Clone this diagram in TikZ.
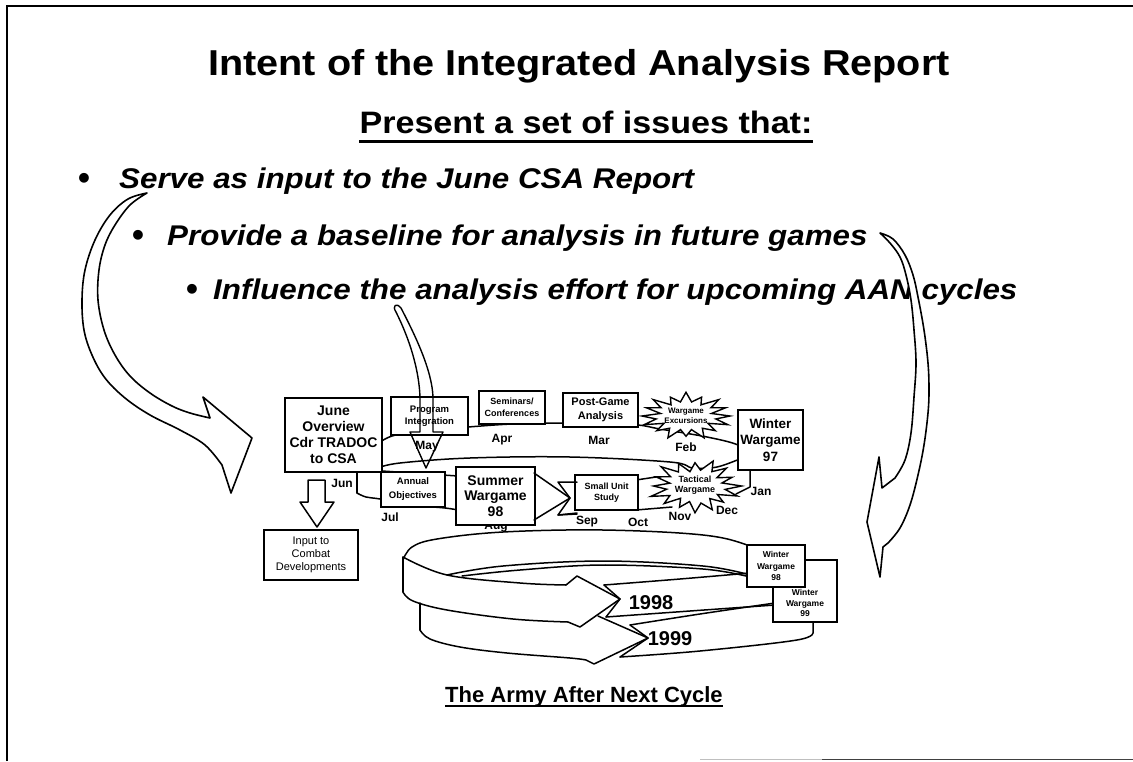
\documentclass[tikz,border=0pt]{standalone}
\usepackage{fontspec}
\setmainfont{Liberation Sans}
\usepackage{graphicx}
\usetikzlibrary{calc}

\begin{document}
\begin{tikzpicture}[x=1pt,y=-1pt,
  box/.style={draw, line width=1.6pt, fill=white, inner sep=0pt, align=center},
  band/.style={line width=1.5pt, line join=round, line cap=round},
  month/.style={inner sep=0pt, font=\fontsize{12}{12}\selectfont\bfseries},
  burst/.style={draw, line width=1.4pt, fill=white, line join=miter, miter limit=8},
  bigarrow/.style={draw, line width=1.6pt, fill=white, line join=round},
  bulletdot/.style={inner sep=0pt, anchor=base, font=\fontsize{34}{34}\selectfont\bfseries},
  bullettext/.style={inner sep=0pt, anchor=base west, font=\fontsize{28.5}{30}\selectfont\bfseries\itshape},
]
\useasboundingbox (0,0) rectangle (1133,761);

% page frame
\draw[line width=2pt] (7,761) -- (7,5.5) -- (1133,5.5);
\draw[line width=0.8pt, black!25] (700,759.5) -- (822,759.5);
\draw[line width=1.2pt, black!75] (822,759.5) -- (1133,759.5);

% heading
\node[inner sep=0pt, anchor=base, font=\fontsize{36}{40}\selectfont\bfseries] (title) at (579,75)
  {\scalebox{1.1}[1]{Intent of the Integrated Analysis Report}};
\node[inner sep=0pt, anchor=base, font=\fontsize{31}{34}\selectfont\bfseries] (sub) at (586,133)
  {\scalebox{1.1}[1]{Present a set of issues that:}};
\draw[line width=2.5pt] ([yshift=-8.5pt]sub.base west) -- ([yshift=-8.5pt]sub.base east);

% bullet list
\node[bulletdot] (d1) at (84,189) {•};
\node[bullettext] (b1) at (119,188) {\scalebox{1.1}[1]{Serve as input to the June CSA Report}};
\node[bulletdot] (d2) at (138,246) {•};
\node[bullettext] (b2) at (167,245) {\scalebox{1.1}[1]{Provide a baseline for analysis in future games}};
\node[bulletdot] (d3) at (192,300) {•};
\node[bullettext] (b3) at (213,299) {\scalebox{1.1}[1]{Influence the analysis effort for upcoming AAN cycles}};

% ---- upper yearly ring ----
\draw[band] plot[smooth, tension=0.6] coordinates {(372,448) (392,436) (430,430) (468,427) (512,424) (563,423) (600,423) (638,425) (660,429) (707,437) (738,445) (752,456)};
\draw[band] plot[smooth, tension=0.6] coordinates {(378,468) (400,463) (470,458) (570,457) (670,462) (693,468) (717,467) (742,458)};
\draw[band] (382,471) -- (458,476);
\draw[band] (636,480) -- (656,477);
\draw[band] (357,470) -- (357,493);
\draw[band] plot[smooth, tension=0.6] coordinates {(357,493) (366,497) (380,499) (413,505) (445,508) (458,510)};
\draw[band] (750,468) -- (750,487) -- (736,494);
\draw[band] (558,515) -- (577,513);
\draw[band] (636,510) -- (672,507);

% month labels
\node[month] (mJun) at (342,483) {Jun};
\node[month] (mJul) at (390,517) {Jul};
\node[month] (mMay) at (427,447) {May};
\node[month] (mApr) at (502,440) {Apr};
\node[month] (mMar) at (599,440) {Mar};
\node[month] (mFeb) at (686,447) {Feb};
\node[month] (mJan) at (761,491) {Jan};
\node[month] (mAug) at (496,527) {Aug};
\node[month] (mSep) at (587,522) {Sep};
\node[month] (mOct) at (638,522) {Oct};
\node[month] (mNov) at (680,516) {Nov};
\node[month] (mDec) at (727,510) {Dec};

% ---- lower rings, 1998 and 1999 ----
\draw[band] plot[smooth, tension=0.6] coordinates {(403,560) (412,547) (437,539) (503,532) (603,530) (703,535) (750,546) (782,562) (792,578)};
\draw[band] (403,557) -- (403,592);
\draw[band] plot[smooth, tension=0.6] coordinates {(403,557) (447,575) (520,583) (566,585)} -- (577,576) -- (620,599) -- (580,627) -- (568,622);
\draw[band] plot[smooth, tension=0.6] coordinates {(403,592) (413,601) (447,610) (513,619) (568,622)};
\draw[band] plot[smooth, tension=0.6] coordinates {(447,575) (503,566) (603,561) (703,566) (750,575)};
\draw[band] plot[smooth, tension=0.6] coordinates {(462,576) (520,570) (603,565) (703,569) (750,577)};
\draw[band] (604,585) -- (620,599) -- (606,617);
\draw[band] plot[smooth, tension=0.6] coordinates {(604,585) (680,579) (750,573)};
\draw[band] plot[smooth, tension=0.6] coordinates {(606,617) (690,611) (775,605)};

\draw[band] (420,603) -- (420,630);
\draw[band] plot[smooth, tension=0.6] coordinates {(420,630) (430,639) (460,647) (507,653) (570,658) (586,660)} -- (594,664) -- (648,638) -- (598,616);
\draw[band] (630,625) -- (648,638) -- (620,657);
\draw[band] plot[smooth, tension=0.6] coordinates {(630,625) (700,614) (775,603)};
\draw[band] plot[smooth, tension=0.6] coordinates {(620,657) (700,651) (797,640) (813,632)} -- (813,620);

\node[inner sep=0pt, font=\fontsize{20}{20}\selectfont\bfseries] (y98) at (651,603) {1998};
\node[inner sep=0pt, font=\fontsize{20}{20}\selectfont\bfseries] (y99) at (670,639) {1999};

% ---- event boxes ----
\node[box, minimum width=97pt, minimum height=74pt, font=\fontsize{14}{16}\selectfont\bfseries] (june) at (333.5,435) {June\\Overview\\Cdr TRADOC\\to CSA};
\node[box, minimum width=94pt, minimum height=50pt, line width=1.3pt, font=\fontsize{11}{13}\selectfont] (input) at (311,555) {Input to\\Combat\\Developments};
\node[box, minimum width=77pt, minimum height=38pt, font=\fontsize{9.5}{12.5}\selectfont\bfseries] (prog) at (429.5,416) {Program\\Integration};
\node[box, minimum width=66pt, minimum height=33pt, font=\fontsize{9}{12.5}\selectfont\bfseries] (semi) at (512,407.5) {Seminars/\\Conferences};
\node[box, minimum width=75pt, minimum height=34pt, font=\fontsize{11}{14}\selectfont\bfseries] (post) at (600.5,410) {Post-Game\\Analysis};
\node[box, minimum width=65pt, minimum height=60pt, font=\fontsize{13.5}{16.5}\selectfont\bfseries] (win97) at (770.5,440) {Winter\\Wargame\\97};
\node[box, minimum width=64pt, minimum height=35pt, line width=2.4pt, font=\fontsize{9.5}{14}\selectfont\bfseries] (annual) at (413,489.5) {Annual\\Objectives};
\node[box, minimum width=79pt, minimum height=58pt, font=\fontsize{14}{15.5}\selectfont\bfseries] (summer) at (495.5,496) {Summer\\Wargame\\98};
\node[box, minimum width=63pt, minimum height=35pt, font=\fontsize{9}{11.5}\selectfont\bfseries] (small) at (606.5,492.5) {Small Unit\\Study};
\node[box, minimum width=64pt, minimum height=62pt] (win99) at (805,591) {};
\node[inner sep=0pt, align=center, font=\fontsize{8.5}{10.5}\selectfont\bfseries] (win99t) at (805,603) {Winter\\Wargame\\99};
\node[box, minimum width=58pt, minimum height=42pt, font=\fontsize{8.5}{11.5}\selectfont\bfseries] (win98) at (776,566) {Winter\\Wargame\\98};

% summer wargame arrow head and the notched tail of the small unit study
\draw[band] (534,473) -- (570,498) -- (534,520);
\draw[band] (577,482) -- (558,482) -- (570,498) -- (558,515) -- (577,514);

% ---- wargame starbursts ----
\draw[burst] plot[samples at={0,11.25,...,348.75}, variable=\t]
  ({686+44*(1-0.36*mod(round(\t/11.25),2))*(1+0.08*sin(7*\t))*cos(\t)},
   {416+22*(1-0.36*mod(round(\t/11.25),2))*(1+0.08*sin(7*\t))*sin(\t)}) -- cycle;
\node[inner sep=0pt, align=center, font=\fontsize{8}{10}\selectfont\bfseries] (wgex) at (686,416) {Wargame\\Excursions};
\draw[burst] plot[samples at={0,11.25,...,348.75}, variable=\t]
  ({695+44*(1-0.36*mod(round(\t/11.25),2))*(1+0.09*sin(5*\t+40))*cos(\t)},
   {486+25*(1-0.36*mod(round(\t/11.25),2))*(1+0.09*sin(5*\t+40))*sin(\t)}) -- cycle;
\node[inner sep=0pt, align=center, font=\fontsize{9}{10.5}\selectfont\bfseries] (tacwg) at (695,485) {Tactical\\Wargame};

% ---- arrow from the third bullet to the annual objectives ----
\draw[band, line width=1.4pt] (420,432) -- (420,397)
  .. controls (419,370) and (410,340) .. (396,312)
  .. controls (392,306) and (396,302) .. (401,308)
  .. controls (415,335) and (432,370) .. (433,397)
  -- (433,432) -- (443,432) -- (426,468) -- (410,432) -- cycle;

% ---- big curved arrows ----
\draw[bigarrow] plot[smooth, tension=0.6] coordinates {(147,193) (128,199) (110,215) (95,240) (85,270) (82,300) (84,330) (92,355) (105,378) (125,398) (150,415) (180,430) (205,445) (222,465)}
  -- (231,493) -- (252,438) -- (203,397)
  -- plot[smooth, tension=0.6] coordinates {(210,418) (190,413) (172,406) (150,393) (130,376) (115,355) (104,330) (98,300) (99,270) (105,245) (115,225) (130,205) (147,193)} -- cycle;

\draw[bigarrow] plot[smooth, tension=0.6] coordinates {(880,233) (893,239) (905,255) (913,275) (918,297) (924,330) (928,363) (929,390) (928,413) (924,445) (918,475) (910,505) (900,528) (888,543)}
  -- (883,547) -- (880,577) -- (867,522) -- (879,457) -- (882,488)
  -- plot[smooth, tension=0.6] coordinates {(895,478) (905,460) (911,433) (914,397) (916,363) (914,330) (911,300) (906,275) (900,257) (890,243) (880,233)} -- cycle;

% June overview feeds combat developments
\draw[bigarrow, line width=1.5pt] (308,480) -- (325,480) -- (325,502) -- (334,502) -- (317,527) -- (300,502) -- (308,502) -- cycle;

% caption
\node[inner sep=0pt, anchor=base, font=\fontsize{22}{24}\selectfont\bfseries] (cap) at (584,702) {The Army After Next Cycle};
\draw[line width=2pt] ([yshift=-3.5pt]cap.base west) -- ([yshift=-3.5pt]cap.base east);
\end{tikzpicture}
\end{document}
